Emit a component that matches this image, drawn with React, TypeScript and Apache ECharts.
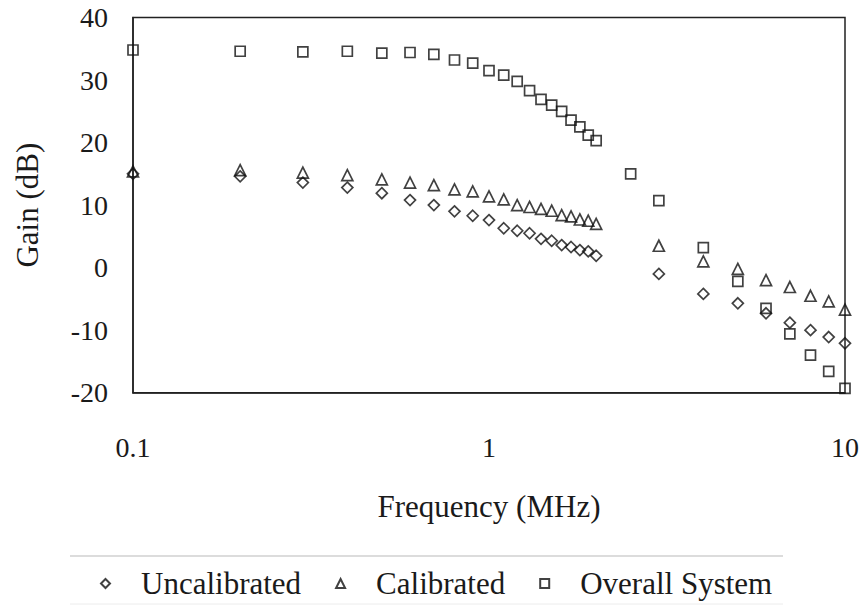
import React, { useEffect, useRef } from "react";
import * as echarts from "echarts";

const FREQ = [0.1, 0.2, 0.3, 0.4, 0.5, 0.6, 0.7, 0.8, 0.9, 1.0, 1.1, 1.2, 1.3, 1.4, 1.5, 1.6, 1.7, 1.8, 1.9, 2.0, 3, 4, 5, 6, 7, 8, 9, 10];
const FREQ_OVERALL = [0.1, 0.2, 0.3, 0.4, 0.5, 0.6, 0.7, 0.8, 0.9, 1.0, 1.1, 1.2, 1.3, 1.4, 1.5, 1.6, 1.7, 1.8, 1.9, 2.0, 2.5, 3, 4, 5, 6, 7, 8, 9, 10];

const UNCALIBRATED = [15.0, 14.6, 13.6, 12.8, 11.9, 10.8, 10.0, 9.0, 8.3, 7.6, 6.3, 5.9, 5.5, 4.6, 4.3, 3.6, 3.3, 2.8, 2.6, 1.9, -1.0, -4.2, -5.7, -7.3, -8.8, -10.0, -11.1, -12.1];
const CALIBRATED = [15.4, 15.6, 15.2, 14.8, 14.1, 13.6, 13.2, 12.5, 12.2, 11.4, 10.9, 10.0, 9.7, 9.4, 9.1, 8.4, 8.2, 7.7, 7.5, 7.0, 3.5, 1.0, -0.2, -2.0, -3.1, -4.5, -5.4, -6.7];
const OVERALL = [34.8, 34.6, 34.5, 34.6, 34.3, 34.4, 34.1, 33.2, 32.7, 31.5, 30.8, 29.8, 28.3, 26.9, 26.0, 25.0, 23.6, 22.5, 21.2, 20.3, 15.0, 10.7, 3.2, -2.2, -6.5, -10.6, -14.0, -16.6, -19.3];

const SERIES_NAMES = ["Uncalibrated", "Calibrated", "Overall System"];
const X_TICK_LABELS: Record<string, string> = { "0.1": "0.1", "1": "1", "10": "10" };

const FONT = "Liberation Serif";
const TEXT = "#1a1a1a";

export default function App() {
  const ref = useRef<HTMLDivElement>(null);
  useEffect(() => {
    if (!ref.current) return;
    const chart = echarts.init(ref.current, undefined, { renderer: "svg" });
    const pair = (xs: number[], ys: number[]) => xs.map((x, i) => [x, ys[i]]);
    const mk = (name: string, symbol: string, size: number, data: number[][]) => ({
      name,
      type: "scatter",
      symbol,
      symbolSize: size,
      data,
      itemStyle: { color: "rgba(0,0,0,0)", borderColor: "#111", borderWidth: 1.7 },
    });
    chart.setOption({
      animation: false,
      backgroundColor: "#fff",
      textStyle: { fontFamily: FONT },
      grid: {
        left: 133,
        right: 19,
        top: 17.5,
        bottom: 213.3,
        show: true,
        borderColor: "#222",
        borderWidth: 1.5,
        backgroundColor: "transparent",
      },
      xAxis: {
        type: "log",
        logBase: 10,
        min: 0.1,
        max: 10,
        name: "Frequency (MHz)",
        nameLocation: "middle",
        nameGap: 98,
        nameTextStyle: { fontFamily: FONT, fontSize: 31, color: TEXT },
        axisLine: { show: true, onZero: false, lineStyle: { color: "#222", width: 1.5 } },
        axisTick: { show: false },
        minorTick: { show: false },
        splitLine: { show: false },
        axisLabel: {
          fontFamily: FONT,
          fontSize: 28,
          color: TEXT,
          margin: 41,
          formatter: (v: number) => X_TICK_LABELS[String(+v.toPrecision(3))] ?? String(v),
        },
      },
      yAxis: {
        type: "value",
        min: -20,
        max: 40,
        interval: 10,
        name: "Gain (dB)",
        nameLocation: "middle",
        nameGap: 90,
        nameTextStyle: { fontFamily: FONT, fontSize: 31, color: TEXT },
        axisLine: { show: true, onZero: false, lineStyle: { color: "#222", width: 1.5 } },
        axisTick: { show: false },
        splitLine: { show: false },
        axisLabel: {
          fontFamily: FONT,
          fontSize: 28,
          color: TEXT,
          margin: 25,
          padding: [8, 0, 0, 0],
        },
      },
      legend: {
        data: SERIES_NAMES,
        left: 95,
        top: 563,
        itemWidth: 9,
        itemHeight: 9,
        itemGap: 34,
        textStyle: { fontFamily: FONT, fontSize: 31, color: TEXT, padding: [0, 0, 0, 26] },
      },
      graphic: [
        {
          type: "line",
          shape: { x1: 70, y1: 556, x2: 783, y2: 556 },
          style: { stroke: "#d0d0d0", lineWidth: 1.5 },
        },
        {
          type: "line",
          shape: { x1: 70, y1: 604, x2: 783, y2: 604 },
          style: { stroke: "#ececec", lineWidth: 1 },
        },
      ],
      series: [
        mk(SERIES_NAMES[0], "diamond", 11, pair(FREQ, UNCALIBRATED)),
        mk(SERIES_NAMES[1], "triangle", 11, pair(FREQ, CALIBRATED)),
        mk(SERIES_NAMES[2], "rect", 10, pair(FREQ_OVERALL, OVERALL)),
      ],
    });
    return () => chart.dispose();
  }, []);
  return <div ref={ref} style={{ width: 864, height: 606, position: "absolute", left: 0, top: 0 }} />;
}
